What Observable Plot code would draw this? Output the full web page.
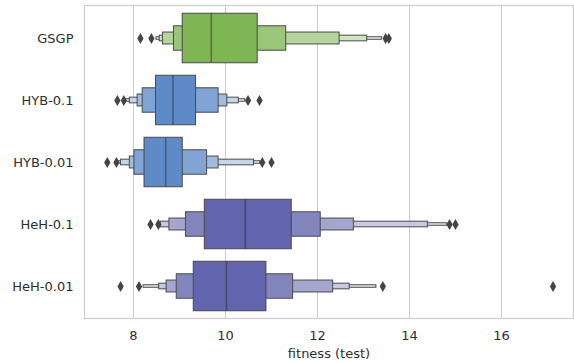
<!DOCTYPE html>
<html>
<head>
<meta charset="utf-8">
<script src="https://cdn.jsdelivr.net/npm/d3@7"></script>
<script src="https://cdn.jsdelivr.net/npm/@observablehq/plot@0.6"></script>
<style>
  body { margin: 0; background: #fff; }
</style>
</head>
<body>
<div id="chart"></div>
<script>
// Letter-value (boxen) summary of test fitness per method.
const groups = ["GSGP", "HYB-0.1", "HYB-0.01", "HeH-0.1", "HeH-0.01"];
const medians = [9.69, 8.86, 8.70, 10.43, 10.02];

// Box ends per letter-value level, innermost box first.
const lowerEnds = [
  [9.07, 8.88, 8.64, 8.57, 8.50],
  [8.49, 8.20, 8.09, 7.92, 7.83],
  [8.24, 8.02, 7.92, 7.73, 7.68],
  [9.55, 9.14, 8.78, 8.59, 8.56],
  [9.31, 8.94, 8.72, 8.56, 8.22]
];
const upperEnds = [
  [10.70, 11.32, 12.48, 13.08, 13.40],
  [9.36, 9.85, 10.04, 10.29, 10.43],
  [9.07, 9.60, 9.85, 10.62, 10.76],
  [11.44, 12.07, 12.79, 14.40, 14.82],
  [10.89, 11.47, 12.34, 12.70, 13.28]
];
const outliers = [
  [8.15, 8.39, 13.48, 13.55],
  [7.65, 7.79, 10.49, 10.74],
  [7.43, 7.63, 10.80, 11.00],
  [8.37, 8.54, 14.87, 15.00],
  [7.72, 8.12, 13.42, 17.12]
];
const baseColors = ["#80b553", "#5e8bc8", "#5e8bc8", "#6264ad", "#6264ad"];
const xTicks = [8, 10, 12, 14, 16];

const W = 574, H = 363;
const mL = 84, mR = 1, mT = 5, mB = 45;
const bandH = (H - mT - mB) / groups.length;
const nLevels = lowerEnds[0].length;

// each level is half as tall as the one inside it, and fades toward white
const levelInset = j => bandH * (1 - 0.8 * Math.pow(0.5, j)) / 2;
const levelFill = (i, j) => d3.interpolateRgb(baseColors[i], "#ffffff")(0.85 * j / (nLevels - 1));

const levelRows = j => groups.map((g, i) => ({
  group: g, lo: lowerEnds[i][j], hi: upperEnds[i][j], fill: levelFill(i, j)
}));

const medianRows = groups.map((g, i) => ({group: g, median: medians[i]}));
const outlierRows = groups.flatMap((g, i) => outliers[i].map(v => ({group: g, value: v})));

const levelMarks = [];
for (let j = nLevels - 1; j >= 0; j--) {
  levelMarks.push(Plot.barX(levelRows(j), {
    x1: "lo", x2: "hi", y: "group",
    fill: d => d.fill,
    stroke: "#4a4a4a", strokeWidth: 1,
    insetTop: levelInset(j), insetBottom: levelInset(j)
  }));
}

const chart = Plot.plot({
  width: W, height: H,
  marginLeft: mL, marginRight: mR, marginTop: mT, marginBottom: mB,
  style: {fontFamily: "DejaVu Sans", fontSize: "13px", color: "#2e2e2e", background: "#fff"},
  x: {domain: [6.935, 17.565]},
  y: {domain: groups, padding: 0},
  color: {type: "identity"},
  marks: [
    Plot.gridX(xTicks, {stroke: "#cccccc", strokeOpacity: 1, strokeWidth: 1}),
    Plot.frame({stroke: "#cccccc", strokeWidth: 1.2}),
    ...levelMarks,
    Plot.tickX(medianRows, {
      x: "median", y: "group", stroke: "#262626", strokeOpacity: 0.45, strokeWidth: 1.6,
      insetTop: levelInset(0), insetBottom: levelInset(0)
    }),
    Plot.dot(outlierRows, {x: "value", y: "group", symbol: "diamond", r: 3.3, fill: "#444444", stroke: null}),
    Plot.axisY({tickSize: 0, tickPadding: 11, label: null, fontSize: "13px"}),
    Plot.axisX({ticks: xTicks, tickSize: 0, tickPadding: 12, label: null, fontSize: "13px"}),
    Plot.text(["fitness (test)"], {frameAnchor: "bottom", dy: 35, lineAnchor: "middle", fontSize: 13, fill: "#2e2e2e"})
  ]
});

document.getElementById("chart").appendChild(chart);
</script>
</body>
</html>
